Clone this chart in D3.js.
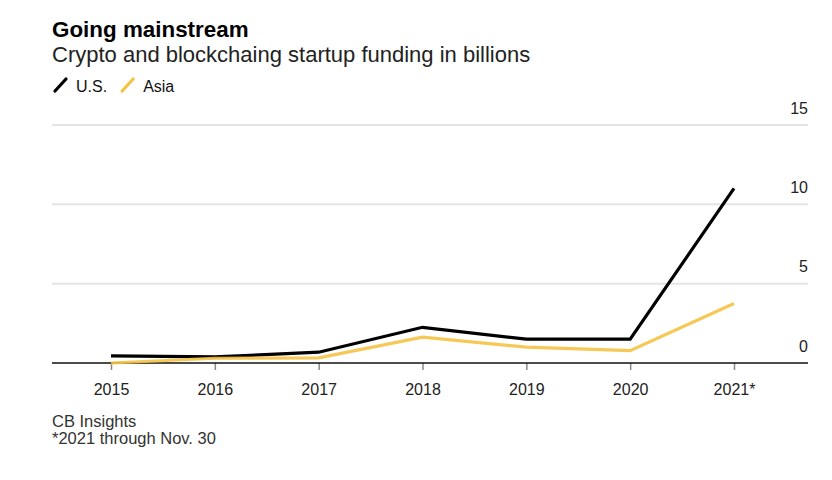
<!DOCTYPE html>
<html>
<head>
<meta charset="utf-8">
<script src="https://cdn.jsdelivr.net/npm/d3@7"></script>
<style>
  html, body { margin: 0; padding: 0; background: #fff; }
  svg { display: block; font-family: "Liberation Sans", Arial, sans-serif; }
</style>
</head>
<body>
<svg id="chart" width="832" height="480"></svg>
<script>
const years = ["2015", "2016", "2017", "2018", "2019", "2020", "2021"];
const yearLabels = ["2015", "2016", "2017", "2018", "2019", "2020", "2021*"];
const usValues = [0.45, 0.38, 0.68, 2.25, 1.5, 1.5, 11.0];
const asiaValues = [0.0, 0.3, 0.32, 1.63, 1.0, 0.78, 3.75];
const yTicks = [0, 5, 10, 15];
const seriesNames = ["U.S.", "Asia"];
const seriesColors = ["#000000", "#f5c242"];

const svg = d3.select("#chart");
const plotLeft = 52, plotRight = 808, plotTop = 125, plotBottom = 363;

const x = d3.scalePoint().domain(years).range([111, 734]);
const y = d3.scaleLinear().domain([0, 15]).range([plotBottom, plotTop]);

// Title
svg.append("text").attr("x", 52).attr("y", 37)
  .attr("font-size", 22.4).attr("font-weight", "bold").attr("fill", "#000")
  .text("Going mainstream");
svg.append("text").attr("x", 52).attr("y", 62)
  .attr("font-size", 22).attr("fill", "#222")
  .text("Crypto and blockchaing startup funding in billions");

// Legend
const legend = svg.append("g");
let lx = 55;
seriesNames.forEach((name, i) => {
  legend.append("line").attr("x1", lx).attr("y1", 91).attr("x2", lx + 11).attr("y2", 79)
    .attr("stroke", seriesColors[i]).attr("stroke-width", 3.2).attr("stroke-linecap", "round");
  const t = legend.append("text").attr("x", lx + 21).attr("y", 92)
    .attr("font-size", 16).attr("fill", "#111").text(name);
  lx += 21 + t.node().getComputedTextLength() + 15;
});

// Gridlines
const yAxis = d3.axisRight(y).tickValues(yTicks).tickSize(0).tickFormat(d3.format("d"));
svg.append("g").selectAll("line").data(yTicks.filter(d => d > 0)).join("line")
  .attr("x1", plotLeft).attr("x2", plotRight)
  .attr("y1", d => y(d)).attr("y2", d => y(d))
  .attr("stroke", "#e4e4e4").attr("stroke-width", 2);

// Y labels (right aligned, above gridlines)
const yg = svg.append("g").attr("transform", `translate(${plotRight},0)`).call(yAxis);
yg.select(".domain").remove();
yg.selectAll("text").attr("x", 0).attr("dy", -12).attr("text-anchor", "end")
  .attr("font-size", 16).attr("fill", "#222").attr("font-family", "Liberation Sans, Arial, sans-serif");

// X axis
const xAxis = d3.axisBottom(x).tickSize(7).tickFormat((d, i) => yearLabels[i]);
const xg = svg.append("g").attr("transform", `translate(0,${plotBottom})`).call(xAxis);
xg.select(".domain").remove();
xg.selectAll(".tick line").attr("stroke", "#888").attr("stroke-width", 1.5);
xg.selectAll("text").attr("dy", 22).attr("font-size", 16).attr("fill", "#222")
  .attr("font-family", "Liberation Sans, Arial, sans-serif");

// Baseline
svg.append("line").attr("x1", plotLeft).attr("x2", plotRight)
  .attr("y1", plotBottom).attr("y2", plotBottom).attr("stroke", "#111").attr("stroke-width", 1.5);

// Lines
const line = d3.line().x((d, i) => x(years[i])).y(d => y(d));
svg.append("path").datum(usValues).attr("d", line)
  .attr("fill", "none").attr("stroke", seriesColors[0]).attr("stroke-width", 3.2)
  .attr("stroke-linejoin", "miter");
svg.append("path").datum(asiaValues).attr("d", line)
  .attr("fill", "none").attr("stroke", seriesColors[1]).attr("stroke-width", 3.2)
  .attr("stroke-opacity", 0.9).attr("stroke-linejoin", "miter");

// Footnotes
svg.append("text").attr("x", 52).attr("y", 427).attr("font-size", 16.5).attr("fill", "#333").text("CB Insights");
svg.append("text").attr("x", 52).attr("y", 444).attr("font-size", 16.5).attr("fill", "#333").text("*2021 through Nov. 30");
</script>
</body>
</html>
